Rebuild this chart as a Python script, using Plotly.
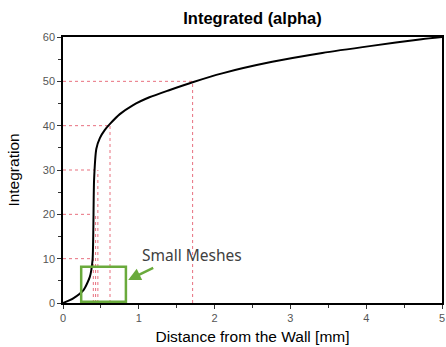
import plotly.graph_objects as go

# curve data
dist_mm = [0, 0.135, 0.27, 0.354, 0.39, 0.40, 0.41, 0.44, 0.486, 0.55, 0.62, 0.75, 0.92,
           1.14, 1.40, 1.71, 2.10, 2.76, 3.42, 4.07, 4.73, 5.0]
integration = [0, 1.05, 2.9, 5.9, 9.7, 16.5, 27.8, 34.8, 37.2, 39.0, 40.4, 42.6, 44.6,
               46.4, 48.0, 49.8, 51.8, 54.4, 56.4, 58.0, 59.5, 60.0]

# reference (red dotted) levels and their x positions
ref_levels = [10, 20, 30, 40, 50]
ref_x = [0.40, 0.43, 0.46, 0.62, 1.71]
ref_hx = [0.38, 0.39, 0.41, 0.62, 1.71]

# "Small Meshes" highlight box (x0, x1, y0, y1)
box = [0.24, 0.83, 0.3, 8.2]
arrow_tail = [1.21, 8.1]
arrow_tip = [0.86, 5.2]

red = "#e8707f"
green = "#6aaa3c"

fig = go.Figure()

rx, ry = [], []
for L, xv, hx in zip(ref_levels, ref_x, ref_hx):
    rx += [0, hx, None, xv, xv, None]
    ry += [L, L, None, 0, L, None]
fig.add_trace(go.Scatter(x=rx, y=ry, mode="lines",
                         line=dict(color=red, width=1, dash="dot"),
                         hoverinfo="skip", showlegend=False))

fig.add_trace(go.Scatter(x=dist_mm, y=integration, mode="lines",
                         line=dict(color="black", width=2, shape="spline", smoothing=0.6),
                         showlegend=False))

fig.add_shape(type="rect", x0=box[0], x1=box[1], y0=box[2], y1=box[3],
              line=dict(color=green, width=2.5))

fig.add_annotation(x=arrow_tip[0], y=arrow_tip[1], ax=arrow_tail[0], ay=arrow_tail[1],
                   xref="x", yref="y", axref="x", ayref="y", text="",
                   showarrow=True, arrowhead=2, arrowsize=1, arrowwidth=2.5,
                   arrowcolor=green)

fig.add_annotation(x=1.02, y=10.9, xref="x", yref="y", text="Small Meshes",
                   showarrow=False, xanchor="left", yanchor="middle",
                   font=dict(family="Noto Sans", size=15.5, color="#404040"))

axis_common = dict(showline=True, linecolor="black", linewidth=1.5, mirror=True,
                   showgrid=False, zeroline=False, ticks="outside", ticklen=4,
                   tickwidth=1.2, tickcolor="#333", automargin=False,
                   tickfont=dict(family="Liberation Sans", size=11, color="#555"))

fig.update_layout(
    width=446, height=347,
    margin=dict(l=63, r=4, t=37, b=44),
    paper_bgcolor="white", plot_bgcolor="white",
    title=dict(text="<b>Integrated (alpha)</b>", x=0.5, xref="paper", xanchor="center",
               y=0.948, yanchor="middle",
               font=dict(family="Liberation Sans", size=16.5, color="black")),
    xaxis=dict(range=[0, 5], tickvals=[0, 1, 2, 3, 4, 5],
               minor=dict(ticks="outside", ticklen=3, dtick=0.5, tickcolor="#333"),
               title=dict(text="Distance from the Wall [mm]", standoff=8,
                          font=dict(family="Liberation Sans", size=15.5, color="black")),
               **axis_common),
    yaxis=dict(range=[0, 60], tickvals=[0, 10, 20, 30, 40, 50, 60],
               minor=dict(ticks="outside", ticklen=3, dtick=5, tickcolor="#333"),
               title=dict(text="Integration", standoff=19,
                          font=dict(family="Liberation Sans", size=15.5, color="black")),
               **axis_common),
)

fig.write_html("out.html", config={"displayModeBar": False},
               post_script="document.body.style.margin='0';document.body.style.overflow='hidden';")
